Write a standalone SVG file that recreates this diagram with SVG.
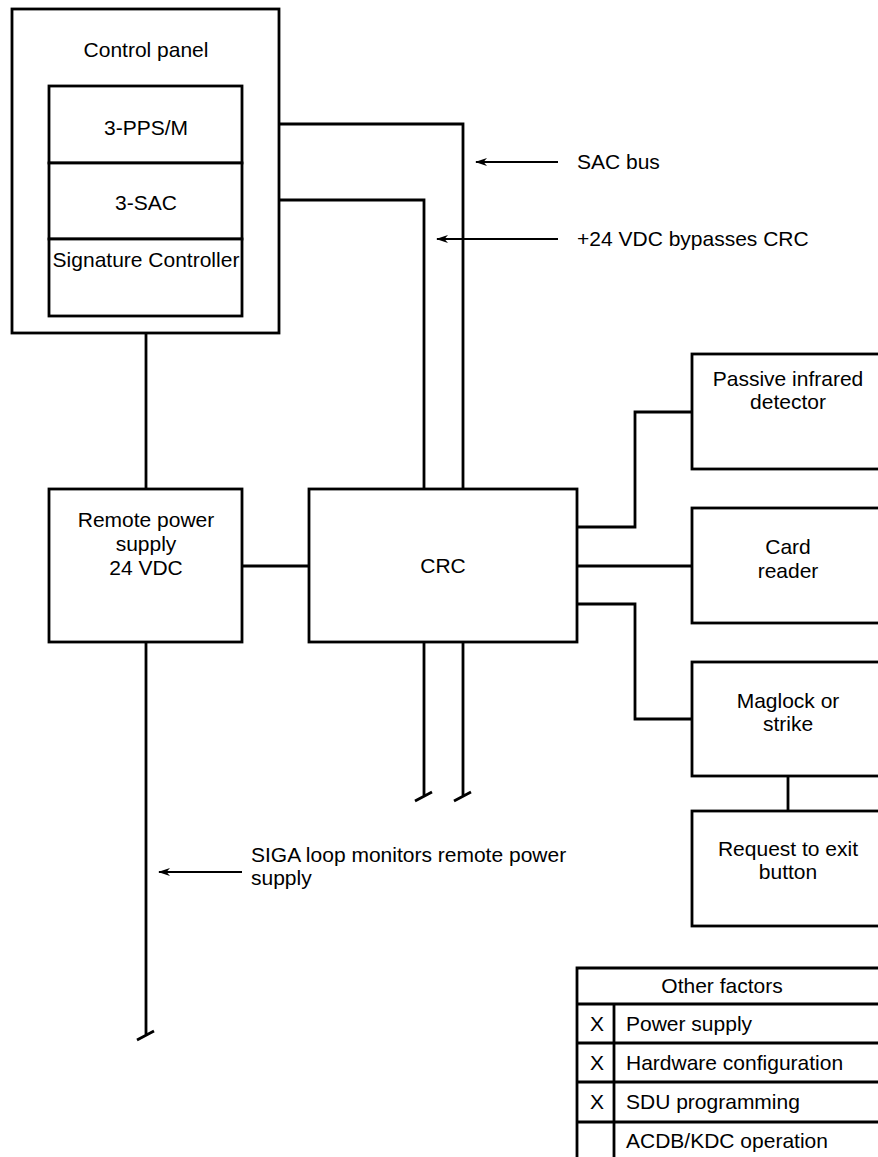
<svg xmlns="http://www.w3.org/2000/svg" width="878" height="1157" viewBox="0 0 878 1157">
<defs>
<style>
.box{fill:#fff;stroke:#000;stroke-width:2.8}
.ln{fill:none;stroke:#000;stroke-width:2.8}
.ar{fill:none;stroke:#000;stroke-width:2.2}
text{font-family:"Liberation Sans",Arial,sans-serif;font-size:21px;fill:#000}
.c{text-anchor:middle}
</style>
<marker id="ah" viewBox="0 0 12 10" refX="11" refY="5" markerWidth="12" markerHeight="10" markerUnits="userSpaceOnUse" orient="auto">
<path d="M0,1 L12,5 L0,9 L3.5,5 Z" fill="#000"/>
</marker>
</defs>
<rect width="878" height="1157" fill="#fff"/>
<g id="connectors">
<path class="ln" d="M242,124 H463 V489"/>
<path class="ln" d="M242,200 H424 V489"/>
<path class="ln" d="M146,316 V489"/>
<path class="ln" d="M242,566 H309"/>
<path class="ln" d="M424,642 V797 M415,801 L432,792"/>
<path class="ln" d="M463,642 V797 M454,801 L471,792"/>
<path class="ln" d="M146,642 V1036 M137,1040 L154,1031"/>
<path class="ln" d="M577,527 H635 V412 H692"/>
<path class="ln" d="M577,566 H692"/>
<path class="ln" d="M577,604 H635 V719 H692"/>
<path class="ln" d="M788,776 V811"/>
<path class="ar" d="M558,162 H476" marker-end="url(#ah)"/>
<path class="ar" d="M558,239 H437" marker-end="url(#ah)"/>
<path class="ar" d="M242,872 H159" marker-end="url(#ah)"/>
</g>
<g id="control-panel">
<rect class="box" x="12" y="9" width="267" height="324" fill="none"/>
<text class="c" x="146" y="57">Control panel</text>
</g>
<g id="pps">
<rect class="box" x="49" y="86" width="193" height="77"/>
<text class="c" x="146" y="135">3-PPS/M</text>
</g>
<g id="sac">
<rect class="box" x="49" y="163" width="193" height="76"/>
<text class="c" x="146" y="210">3-SAC</text>
</g>
<g id="sig">
<rect class="box" x="49" y="239" width="193" height="77"/>
<text class="c" x="146" y="267">Signature Controller</text>
</g>
<g id="rps">
<rect class="box" x="49" y="489" width="193" height="153"/>
<text class="c" x="146" y="527">Remote power</text>
<text class="c" x="146" y="551">supply</text>
<text class="c" x="146" y="575">24 VDC</text>
</g>
<g id="crc">
<rect class="box" x="309" y="489" width="268" height="153"/>
<text class="c" x="443" y="573">CRC</text>
</g>
<g id="pir">
<rect class="box" x="692" y="354" width="210" height="115"/>
<text class="c" x="788" y="386">Passive infrared</text>
<text class="c" x="788" y="409">detector</text>
</g>
<g id="card">
<rect class="box" x="692" y="508" width="210" height="115"/>
<text class="c" x="788" y="554">Card</text>
<text class="c" x="788" y="578">reader</text>
</g>
<g id="maglock">
<rect class="box" x="692" y="662" width="210" height="114"/>
<text class="c" x="788" y="708">Maglock or</text>
<text class="c" x="788" y="731">strike</text>
</g>
<g id="rte">
<rect class="box" x="692" y="811" width="210" height="115"/>
<text class="c" x="788" y="856">Request to exit</text>
<text class="c" x="788" y="879">button</text>
</g>
<g id="labels">
<text x="577" y="169">SAC bus</text>
<text x="577" y="246">+24 VDC bypasses CRC</text>
<text x="251" y="862">SIGA loop monitors remote power</text>
<text x="251" y="885">supply</text>
</g>
<g id="table">
<path class="ln" d="M900,968 H577 V1170 M577,1004 H900 M577,1043 H900 M577,1082 H900 M577,1122 H900 M614,1004 V1170"/>
<text class="c" x="722" y="993">Other factors</text>
<text class="c" x="597" y="1031">X</text>
<text x="626" y="1031">Power supply</text>
<text class="c" x="597" y="1070">X</text>
<text x="626" y="1070">Hardware configuration</text>
<text class="c" x="597" y="1109">X</text>
<text x="626" y="1109">SDU programming</text>
<text x="626" y="1148">ACDB/KDC operation</text>
</g>
</svg>
